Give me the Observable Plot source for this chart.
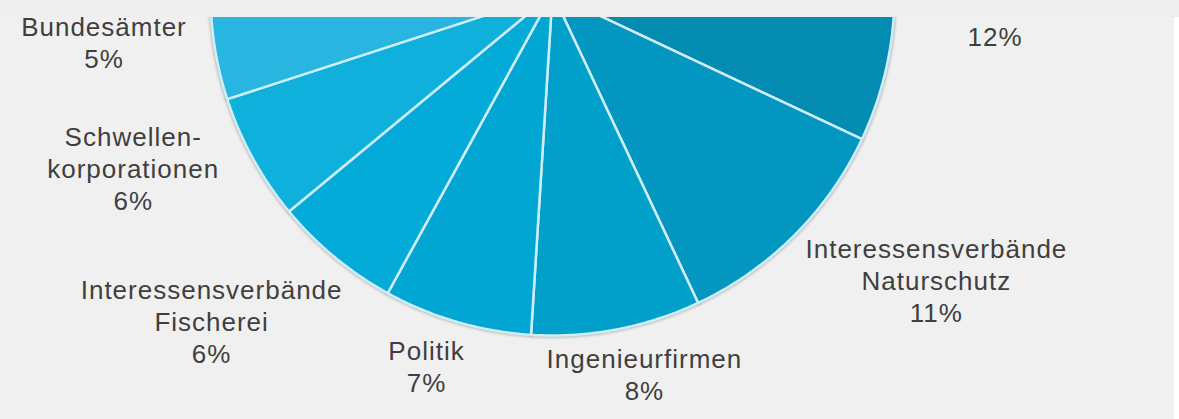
<!DOCTYPE html>
<html><head><meta charset="utf-8">
<script src="https://cdn.jsdelivr.net/npm/d3@7"></script>
<script src="https://cdn.jsdelivr.net/npm/@observablehq/plot@0.6"></script>
<style>
html,body{margin:0;padding:0;background:#ffffff;}
#wrap{position:relative;width:1179px;height:419px;overflow:hidden;background:#ffffff;}
#chart{position:absolute;left:0;top:0;}
#band{position:absolute;left:0;top:0;width:1179px;height:17px;background:#eeeeee;}
</style></head><body>
<div id="wrap"><div id="chart"></div><div id="band"></div></div>
<script>
// ---- data (clockwise from 12 o'clock; top part of the pie is cut off in the picture) ----
const categories = ["(verdeckt)", "(verdeckt, 12 %)", "Interessensverbände Naturschutz", "Ingenieurfirmen", "Politik", "Interessensverbände Fischerei", "Schwellenkorporationen", "Bundesämter", "(verdeckt, übrige)"];
const shares = [20, 12, 11, 8, 7, 6, 6, 5, 25];
const labelNames = [null, "", "Interessensverbände\nNaturschutz", "Ingenieurfirmen", "Politik", "Interessensverbände\nFischerei", "Schwellen-\nkorporationen", "Bundesämter", null];
const sliceColors = ["#0780a8", "#048bb2", "#0396c0", "#00a0cb", "#02a6d3", "#05abd8", "#10b0dc", "#28b5e0", "#3bbde6"];

// ---- layout ----
const W = 1174, H = 419, CX = 552, CY = -7, R = 342;
// label placement: [angle offset from slice middle (deg), distance in radii]
const labelPlacement = {
  "(verdeckt, 12 %)": [1.8, 1.30],
  "Interessensverbände Naturschutz": [-8.3, 1.40],
  "Ingenieurfirmen": [-2.8, 1.143],
  "Politik": [2.5, 1.149],
  "Interessensverbände Fischerei": [6.6, 1.381],
  "Schwellenkorporationen": [6.2, 1.328],
  "Bundesämter": [2.9, 1.319]
};

const data = categories.map((c, i) => ({category: c, share: shares[i], name: labelNames[i]}));
const arcs = d3.pie().sort(null).value(d => d.share)(data);

const pts = [];
arcs.forEach(a => {
  pts.push({category: a.data.category, x: 0, y: 0});
  const n = Math.max(2, Math.ceil((a.endAngle - a.startAngle) / (Math.PI / 360)));
  for (let k = 0; k <= n; k++) {
    const t = a.startAngle + (a.endAngle - a.startAngle) * k / n;
    pts.push({category: a.data.category, x: Math.sin(t), y: Math.cos(t)});
  }
});

const labels = arcs.filter(a => a.data.name !== null).map(a => {
  const [dA, r] = labelPlacement[a.data.category];
  const t = (a.startAngle + a.endAngle) / 2 + dA * Math.PI / 180;
  return {x: r * Math.sin(t), y: r * Math.cos(t), text: (a.data.name ? a.data.name + "\n" : "") + a.data.share + "%"};
});

const plot = Plot.plot({
  width: W, height: H, margin: 0,
  style: {background: "#f0f0f0", overflow: "hidden"},
  x: {domain: [-CX / R, (W - CX) / R], axis: null},
  y: {domain: [(CY - H) / R, CY / R], axis: null},
  color: {domain: categories, range: sliceColors},
  marks: [
    Plot.line(pts, {x: "x", y: "y", z: "category", fill: "#9a9a9a", stroke: "#9a9a9a", strokeWidth: 5, strokeOpacity: 0.5, curve: "linear-closed"}),
    Plot.line(pts, {x: "x", y: "y", z: "category", fill: "category", stroke: "#cdeefa", strokeWidth: 2.5, curve: "linear-closed"}),
    Plot.text(labels, {x: "x", y: "y", text: "text", fontSize: 26, lineHeight: 1.23, fill: "#3f3f3f", fontFamily: "'Liberation Sans', Arial, sans-serif", textAnchor: "middle"})
  ]
});
const shadow = plot.querySelector('g[aria-label="line"]');
if (shadow) shadow.style.filter = "blur(1.2px)";
plot.querySelectorAll("text").forEach(t => t.setAttribute("letter-spacing", "1"));
document.getElementById("chart").appendChild(plot);
</script>
</body></html>
